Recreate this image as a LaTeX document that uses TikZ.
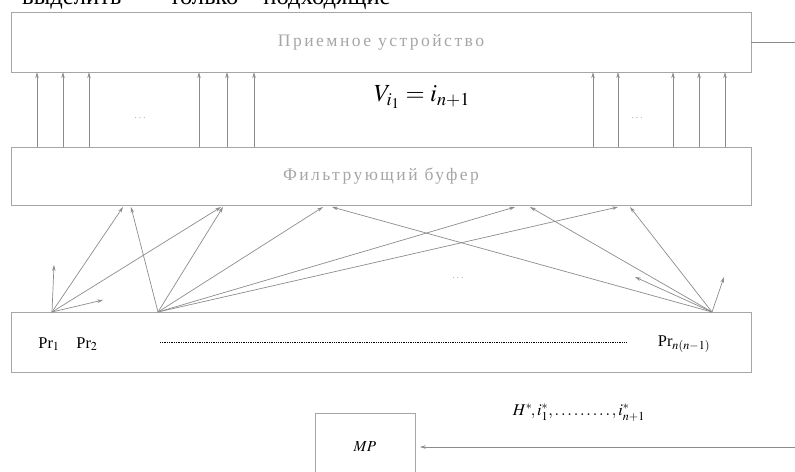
\documentclass[tikz,border=0pt]{standalone}
\usepackage{mathptmx}
\usepackage{fontspec}
\setmainfont{Liberation Serif}
\newfontfamily\spacedfont[LetterSpace=14]{Liberation Serif}
\usetikzlibrary{arrows.meta, positioning, calc}

\begin{document}
\begin{tikzpicture}[
    x=0.03cm, y=-0.03cm,
    block/.style={draw=gray!70, rectangle, minimum width=22.2cm, minimum height=1.8cm, inner sep=0pt, text=gray!70, font=\spacedfont\fontsize{15}{17}\selectfont},
    sig/.style={-{Stealth[length=5pt, width=3pt]}, draw=gray!90, line width=0.6pt},
    wire/.style={draw=gray!90, line width=0.6pt},
    dotsnode/.style={text=gray!60, font=\fontsize{9}{10}\selectfont}
]
\useasboundingbox (0,0) rectangle (795,471);

\node[anchor=base west, inner sep=0pt, font=\fontsize{21}{24}\selectfont] (cap) at (22,4) {выделить\hspace{1.45cm}только\hspace{0.75cm}подходящие};

\node[block] (rcv) at (381,42) {Приемное устройство};
\node[block, minimum height=1.74cm] (buf) at (381,176) {Фильтрующий буфер};
\node[block] (proc) at (381,342) {};
\node[draw=gray!70, minimum width=3cm, minimum height=2.04cm, font=\fontsize{13}{14}\selectfont] (mp) at (365,447) {$MP$};

% buffer -> receiver
\foreach \x in {37,63,89,199,227,254,593,618,673,699,725} {
  \coordinate (vx) at (\x,0);
  \draw[sig] (buf.north -| vx) -- (rcv.south -| vx);
}
\node[dotsnode] (dl) at (140,118) {.\,.\,.};
\node[dotsnode] (dr) at (637,118) {.\,.\,.};
\node[font=\fontsize{21}{23}\selectfont] (vi) at (422,97) {$V_{i_1} = i_{n+1}$};

% processors -> buffer
\coordinate (s1) at (52,312);
\coordinate (s2) at (158,312);
\coordinate (s3) at (712,312);
\foreach \name/\x in {a/123, b/131, c/221, d/223, e/323, f/332, g/515, h/530, k/618, l/630}
  \coordinate (\name) at (\x,207);
\coordinate (u1) at (54,265);
\coordinate (u2) at (103,300);
\coordinate (u3) at (724,277);
\coordinate (u4) at (635,277);

\foreach \t in {a,c,u1,u2} \draw[sig] (s1) -- (\t);
\foreach \t in {b,d,e,g,k} \draw[sig] (s2) -- (\t);
\foreach \t in {f,h,l,u3,u4} \draw[sig] (s3) -- (\t);
\node[dotsnode] (dm) at (458,278) {.\,.\,.};

% processor labels
\node[font=\fontsize{14}{15}\selectfont] (pr1) at (49,344) {Pr$_1$};
\node[font=\fontsize{14}{15}\selectfont] (pr2) at (87,344) {Pr$_2$};
\node[font=\fontsize{14}{15}\selectfont] (prn) at (684,344) {Pr$_{n(n-1)}$};
\draw[densely dotted, line width=0.5pt] (160,342) -- (627,342);

% outside links
\coordinate (rx) at (795,43);
\draw[wire] (rcv.east) -- (rcv.east -| rx);
\coordinate (in) at (795,447);
\draw[sig, shorten >=4pt] (in) -- (mp.east);
\node[font=\fontsize{14}{16}\selectfont] (hlab) at (579,413) {$H^*\!,i_1^*,\ldots\ldots\ldots,i_{n+1}^*$};
\end{tikzpicture}
\end{document}
